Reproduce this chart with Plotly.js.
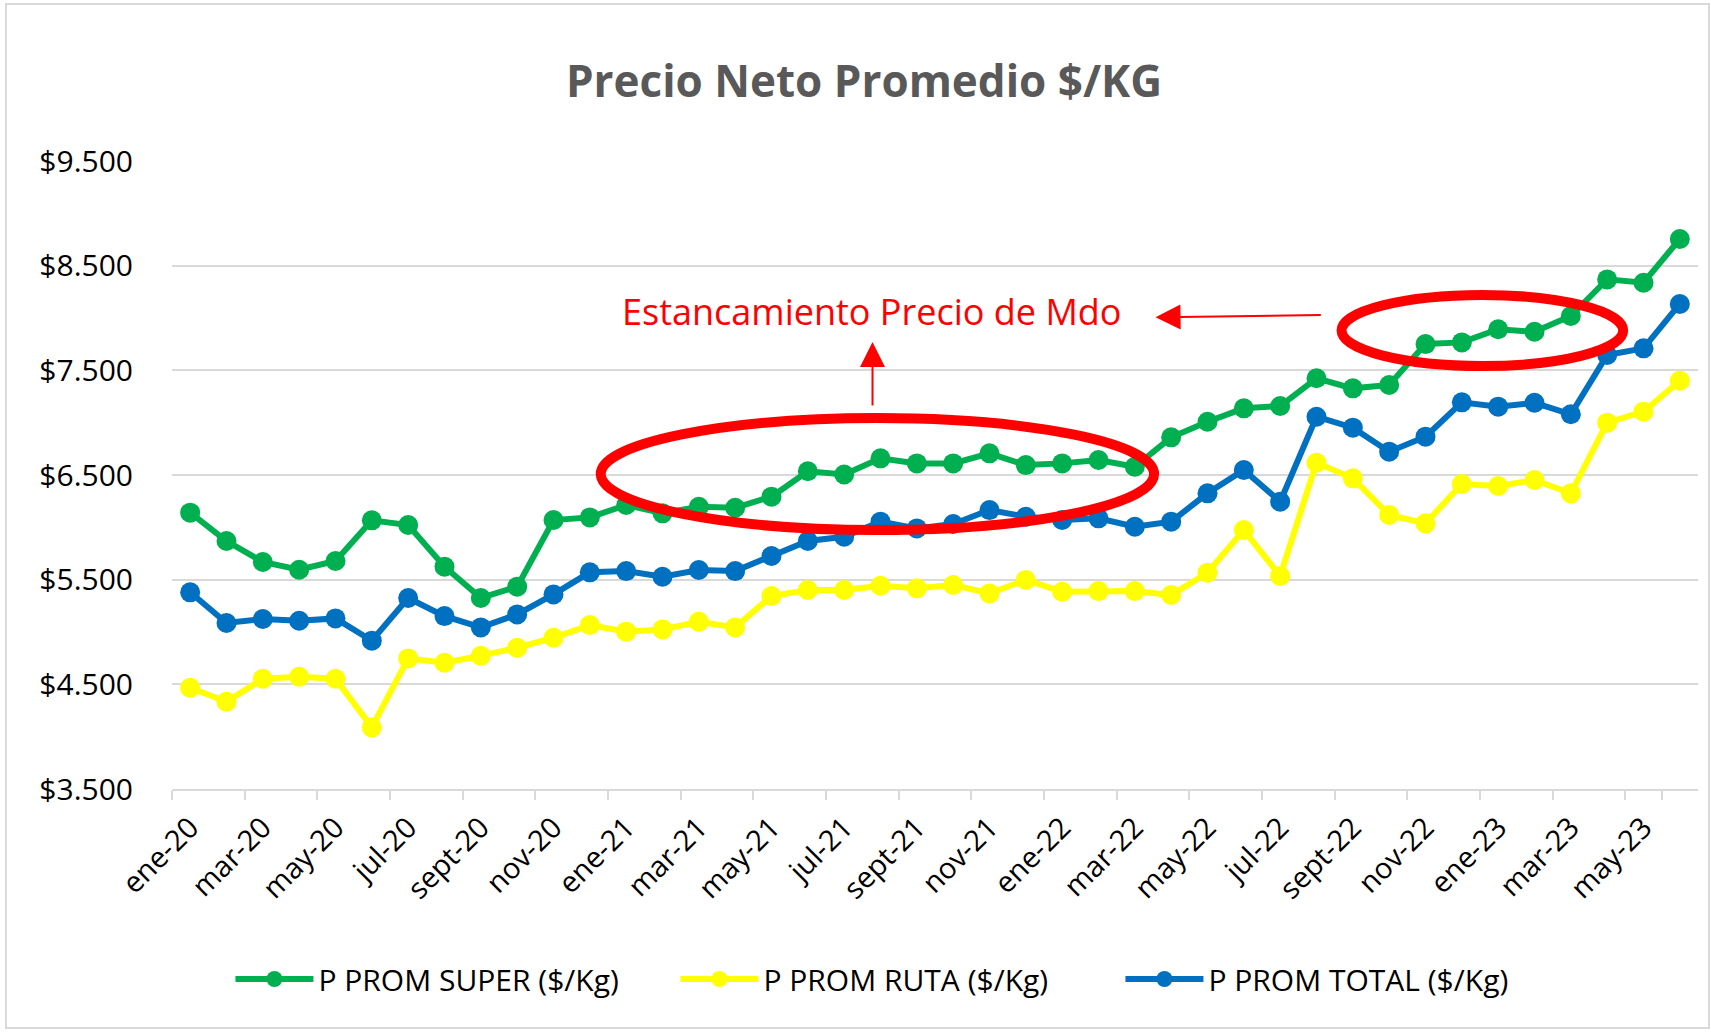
<!DOCTYPE html>
<html>
<head>
<meta charset="utf-8">
<script src="https://cdn.plot.ly/plotly-3.0.1.min.js"></script>
<style>
  html, body { margin: 0; padding: 0; background: #ffffff; }
  #chart { width: 1711px; height: 1032px; }
</style>
</head>
<body>
<div id="chart"></div>
<script>
// ---- Data ----
const months = [
  "ene-20","feb-20","mar-20","abr-20","may-20","jun-20","jul-20","ago-20","sept-20","oct-20","nov-20","dic-20",
  "ene-21","feb-21","mar-21","abr-21","may-21","jun-21","jul-21","ago-21","sept-21","oct-21","nov-21","dic-21",
  "ene-22","feb-22","mar-22","abr-22","may-22","jun-22","jul-22","ago-22","sept-22","oct-22","nov-22","dic-22",
  "ene-23","feb-23","mar-23","abr-23","may-23","jun-23"
];

const superPrice = [
  6140, 5869, 5669, 5595, 5678, 6067, 6022, 5624, 5325, 5433, 6070, 6095,
  6213, 6134, 6197, 6187, 6293, 6536, 6505, 6659, 6611, 6611, 6707, 6595,
  6611, 6643, 6579, 6860, 7009, 7137, 7159, 7424, 7328, 7360, 7751, 7767,
  7892, 7869, 8019, 8369, 8337, 8755
];

const rutaPrice = [
  4467, 4334, 4553, 4572, 4553, 4089, 4748, 4706, 4773, 4850, 4945, 5066,
  5003, 5025, 5098, 5044, 5344, 5401, 5401, 5442, 5417, 5449, 5369, 5497,
  5385, 5391, 5391, 5353, 5566, 5974, 5535, 6617, 6468, 6118, 6038, 6414,
  6395, 6452, 6325, 7000, 7105, 7401
];

const totalPrice = [
  5379, 5086, 5124, 5108, 5130, 4917, 5325, 5152, 5044, 5168, 5359, 5570,
  5582, 5528, 5592, 5582, 5726, 5869, 5910, 6054, 5990, 6032, 6165, 6101,
  6070, 6086, 6006, 6054, 6325, 6548, 6245, 7057, 6952, 6723, 6866, 7194,
  7153, 7190, 7080, 7646, 7710, 8134
];

const seriesNames = ["P PROM SUPER ($/Kg)", "P PROM RUTA ($/Kg)", "P PROM TOTAL ($/Kg)"];
const seriesColors = ["#00B050", "#FFFF00", "#0070C0"];
const yTicks = [3500, 4500, 5500, 6500, 7500, 8500, 9500];
const yTickText = yTicks.map(v => "$" + String(v).replace(/\B(?=(\d{3})+(?!\d))/g, "."));
const xTickLabels = months.filter((m, i) => i % 2 === 0);

const annotationText = "Estancamiento Precio de Mdo";

// ---- Traces ----
const allSeries = [superPrice, rutaPrice, totalPrice];
const traces = allSeries.map((vals, k) => ({
  type: "scatter",
  mode: "lines+markers",
  x: months,
  y: vals,
  name: seriesNames[k],
  line: { color: seriesColors[k], width: 6 },
  marker: { color: seriesColors[k], size: 20 },
  hoverinfo: "x+y+name"
}));

const FONT = "'Open Sans', 'DejaVu Sans', sans-serif";

const layout = {
  width: 1711,
  height: 1032,
  margin: { l: 172, r: 13, t: 161, b: 243, pad: 0 },
  paper_bgcolor: "#ffffff",
  plot_bgcolor: "#ffffff",
  font: { family: FONT, color: "#000000", size: 28 },
  title: {
    text: "<b>Precio Neto Promedio $/KG</b>",
    font: { family: FONT, size: 44, color: "#595959" },
    xref: "container", yref: "container",
    x: 0.505, xanchor: "center",
    y: 0.921, yanchor: "middle"
  },
  xaxis: {
    type: "category",
    range: [-0.5, 41.5],
    tickmode: "array",
    tickvals: xTickLabels,
    ticktext: xTickLabels,
    tickson: "boundaries",
    ticks: "outside",
    ticklen: 9,
    tickwidth: 2,
    tickcolor: "#d9d9d9",
    tickangle: -45,
    ticklabelstandoff: 8,
    showgrid: false,
    showline: true,
    linecolor: "#d9d9d9",
    linewidth: 2,
    zeroline: false,
    tickfont: { family: FONT, size: 29, color: "#000000" },
    automargin: false,
    fixedrange: true
  },
  yaxis: {
    range: [3500, 9500],
    tickmode: "array",
    tickvals: yTicks,
    ticktext: yTickText,
    showgrid: true,
    gridcolor: "#d9d9d9",
    gridwidth: 2,
    zeroline: false,
    showline: false,
    ticks: "",
    ticklabelstandoff: 38,
    tickfont: { family: FONT, size: 30, color: "#000000" },
    automargin: false,
    fixedrange: true
  },
  showlegend: true,
  legend: {
    orientation: "h",
    xref: "paper", yref: "paper",
    x: 0.0383, xanchor: "left",
    y: -0.3025, yanchor: "middle",
    font: { family: FONT, size: 30, color: "#000000" },
    itemwidth: 78,
    entrywidth: 352,
    entrywidthmode: "pixels",
    bgcolor: "rgba(0,0,0,0)",
    traceorder: "normal"
  },
  shapes: [
    // outer chart frame
    {
      type: "rect", xref: "paper", yref: "paper",
      x0: -0.1088, x1: 1.0072, y0: -0.3806, y1: 1.25,
      line: { color: "#d9d9d9", width: 2 }, fillcolor: "rgba(0,0,0,0)", layer: "below"
    },
    // big ellipse
    {
      type: "circle", xref: "x", yref: "y",
      x0: 11.3, x1: 26.53, y0: 5974, y1: 7044,
      line: { color: "#FF0000", width: 10 }, fillcolor: "rgba(0,0,0,0)", layer: "above"
    },
    // small ellipse
    {
      type: "circle", xref: "x", yref: "y",
      x0: 31.69, x1: 39.44, y0: 7541, y1: 8220,
      line: { color: "#FF0000", width: 10 }, fillcolor: "rgba(0,0,0,0)", layer: "above"
    }
  ],
  annotations: [
    {
      text: annotationText,
      xref: "x", yref: "y",
      x: 18.75, y: 8060,
      showarrow: false,
      font: { family: FONT, size: 36, color: "#FF0000" },
      xanchor: "center", yanchor: "middle"
    },
    // up arrow
    {
      text: "",
      xref: "x", yref: "y", axref: "x", ayref: "y",
      x: 18.78, y: 7771, ax: 18.78, ay: 7149,
      showarrow: true, arrowhead: 2, arrowsize: 2.5, arrowwidth: 2, arrowcolor: "#FF0000"
    },
    // left arrow
    {
      text: "",
      xref: "x", yref: "y", axref: "x", ayref: "y",
      x: 26.57, y: 8007, ax: 31.16, ay: 8029,
      showarrow: true, arrowhead: 2, arrowsize: 2.5, arrowwidth: 2, arrowcolor: "#FF0000"
    }
  ]
};

Plotly.newPlot("chart", traces, layout, { displayModeBar: false, staticPlot: true });
</script>
</body>
</html>
